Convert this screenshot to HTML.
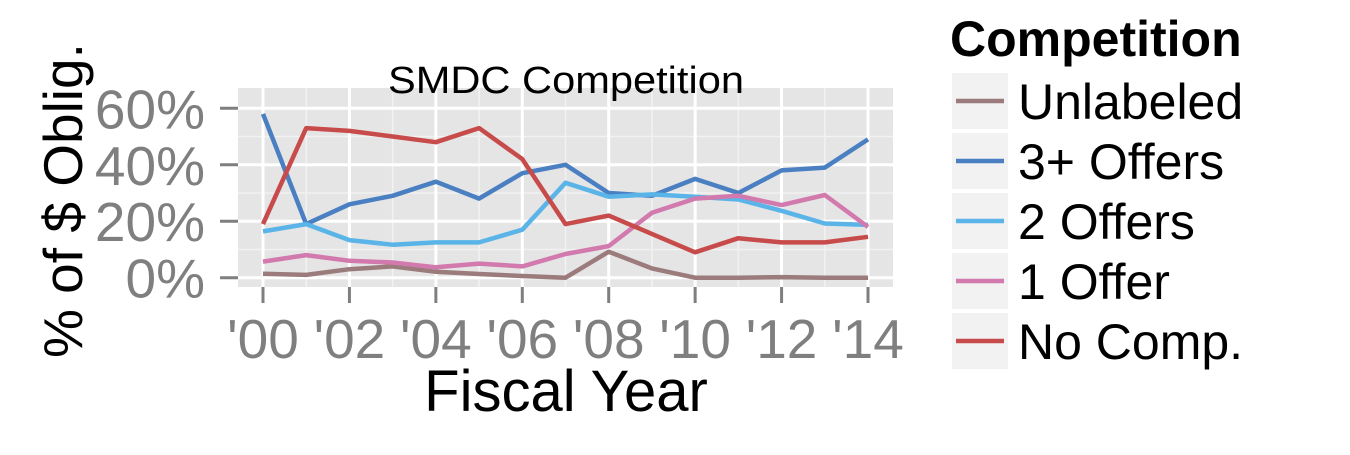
<!DOCTYPE html>
<html><head><meta charset="utf-8"><style>
html,body{margin:0;padding:0;background:#fff;}
svg text{font-family:"Liberation Sans",Arial,sans-serif;}
</style></head><body>
<svg id="chart" width="1350" height="450" viewBox="0 0 1350 450" xmlns="http://www.w3.org/2000/svg">
<rect x="0" y="0" width="1350" height="450" fill="#fff"/>
<rect x="238" y="88" width="655" height="199" fill="#e5e5e5"/>
<g id="grid"></g>
<g id="series"></g>
<g id="axes"></g>
<text x="388" y="93" font-size="38" textLength="356" lengthAdjust="spacingAndGlyphs">SMDC Competition</text>
<text x="566" y="411" font-size="58" text-anchor="middle">Fiscal Year</text>
<text transform="translate(82,358) rotate(-90)" font-size="55">% of $ Oblig.</text>
<g id="legend">
<text x="950" y="56" font-size="50" font-weight="bold">Competition</text>
</g>
</svg>
<script>
const years = [2000,2001,2002,2003,2004,2005,2006,2007,2008,2009,2010,2011,2012,2013,2014];
const yTicks = [0,20,40,60];
const yTickLabels = ["0%","20%","40%","60%"];
const xTickYears = [2000,2002,2004,2006,2008,2010,2012,2014];
const xTickLabels = ["'00","'02","'04","'06","'08","'10","'12","'14"];
const seriesNames = ["Unlabeled","3+ Offers","2 Offers","1 Offer","No Comp."];
const seriesColors = ["#9b7b7b","#4a7fc1","#5ab4e8","#d279ad","#c84b4b"];
const unlabeled = [1.4,1,3,4,2.1,1.3,0.6,0,9.2,3.3,0,0,0.2,0,0];
const offers3 = [58,19,26,29,34,28,37,40,30,29,35,30,38,39,49];
const offers2 = [16.4,19,13.3,11.7,12.5,12.5,17,33.6,28.7,29.5,28.7,27.7,23.7,19.2,18.7];
const offer1 = [5.7,8,6,5.4,3.7,5,4,8.4,11.2,23,28,29,25.7,29.3,18];
const noComp = [19,53,52,50,48,53,42,19,22,15.5,9,14,12.5,12.5,14.5];
const allSeries = [unlabeled,offers3,offers2,offer1,noComp];

const NS="http://www.w3.org/2000/svg";
const xS = y => 263 + (y-2000)*(868-263)/14;
const yS = v => 277.7 - v*(277.7-108.3)/60;
function mk(tag, attrs, parent){const e=document.createElementNS(NS,tag);for(const k in attrs)e.setAttribute(k,attrs[k]);parent.appendChild(e);return e;}
const grid=document.getElementById('grid'), ser=document.getElementById('series'), ax=document.getElementById('axes'), leg=document.getElementById('legend');
for(let v=10; v<=70; v+=20){const yy=yS(v); if(yy<88) continue;
 const l=mk('line',{x1:238,x2:893,y1:yy,y2:yy,stroke:'#f2f2f2','stroke-width':1.5},grid);
 
 }
for(let y=2001; y<=2015; y+=2){const xx=xS(y); if(xx>893) continue;
 const l=mk('line',{x1:xx,x2:xx,y1:88,y2:287,stroke:'#f2f2f2','stroke-width':1.5},grid);
 
 }
yTicks.forEach((v,i)=>{const yy=yS(v);
 const l=mk('line',{x1:238,x2:893,y1:yy,y2:yy,stroke:'#fff','stroke-width':3},grid);
 
 
 const t=mk('line',{x1:220,x2:238,y1:yy,y2:yy,stroke:'#7f7f7f','stroke-width':3},ax);
 
 
 const tx=mk('text',{x:205,y:yy+20,'font-size':55,fill:'#7f7f7f','text-anchor':'end'},ax);
 tx.textContent=yTickLabels[i];
 
 });
xTickYears.forEach((y,i)=>{const xx=xS(y);
 const l=mk('line',{x1:xx,x2:xx,y1:88,y2:287,stroke:'#fff','stroke-width':3},grid);
 
 
 const t=mk('line',{x1:xx,x2:xx,y1:287,y2:303,stroke:'#7f7f7f','stroke-width':3},ax);
 
 
 const tx=mk('text',{x:xx,y:358,'font-size':55,fill:'#7f7f7f','text-anchor':'middle'},ax);
 tx.textContent=xTickLabels[i];
 
 });
allSeries.forEach((vals,si)=>{
 const d=vals.map((v,i)=>(i?'L':'M')+xS(years[i]).toFixed(1)+','+yS(v).toFixed(1)).join(' ');
 const p=mk('path',{d:d,fill:'none',stroke:seriesColors[si],'stroke-width':4.5,'stroke-linejoin':'round'},ser);
 
 
 const ky=73+si*60;
 const k=mk('rect',{x:952,y:ky,width:56,height:56,fill:'#f2f2f2'},leg);
 
 
 const kl=mk('line',{x1:956,x2:1004,y1:ky+28,y2:ky+28,stroke:seriesColors[si],'stroke-width':4.5},leg);
 
 
 const kt=mk('text',{x:1018,y:ky+46,'font-size':50},leg);
 kt.textContent=seriesNames[si];
 
 
});
</script>
</body></html>
